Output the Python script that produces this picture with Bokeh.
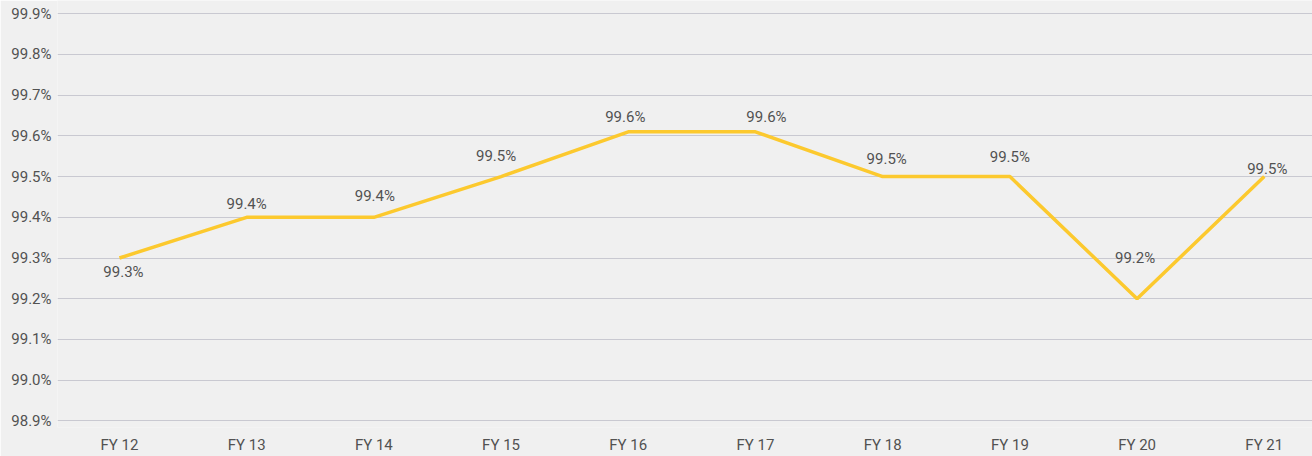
from bokeh.plotting import figure
from bokeh.models import ColumnDataSource, Range1d, FixedTicker, PrintfTickFormatter
from bokeh.embed import file_html
from bokeh.resources import INLINE
from bokeh.core.properties import value

# ---- data ----
categories = ["FY 12", "FY 13", "FY 14", "FY 15", "FY 16", "FY 17", "FY 18", "FY 19", "FY 20", "FY 21"]
availability = [99.30, 99.40, 99.40, 99.50, 99.61, 99.61, 99.50, 99.50, 99.20, 99.50]
y_ticks = [98.9, 99.0, 99.1, 99.2, 99.3, 99.4, 99.5, 99.6, 99.7, 99.8, 99.9]

# ---- label placement (screen pixels, styling only) ----
label_dx = [4, 0, 1, -5, -3, 11, 4, 0, -2, 3]
label_dy = [14, -13, -21, -21, -15, -15, -18, -20, -41, -8]

FONT = "Roboto"
TXT = "#525252"
BG = "#f0f0f0"

idx = list(range(len(categories)))
labels = [f"{v:.1f}%" for v in availability]

src = ColumnDataSource(dict(x=idx, y=availability, lab=labels, dx=label_dx, dy=label_dy))

p = figure(width=1312, height=456, output_backend="svg", toolbar_location=None,
           x_range=Range1d(-0.487, 9.379), y_range=Range1d(98.8836, 99.9326),
           min_border_left=57, min_border_right=0, min_border_top=0, min_border_bottom=28)

p.background_fill_color = BG
p.border_fill_color = BG
p.outline_line_color = None

p.line("x", "y", source=src, line_color="#fcc92e", line_width=3.5)
p.text("x", "y", text="lab", source=src, x_offset="dx", y_offset="dy",
       text_align="center", text_baseline="middle", text_font=value(FONT),
       text_font_size="15px", text_color=TXT)

# axes
p.xaxis.ticker = FixedTicker(ticks=idx)
p.xaxis.major_label_overrides = {i: c for i, c in zip(idx, categories)}
p.yaxis.ticker = FixedTicker(ticks=y_ticks)
p.yaxis.formatter = PrintfTickFormatter(format="%.1f%%")

for ax in (p.xaxis, p.yaxis):
    ax.axis_line_color = None
    ax.major_tick_line_color = None
    ax.minor_tick_line_color = None
    ax.major_tick_out = 0
    ax.major_tick_in = 0
    ax.major_label_text_font = FONT
    ax.major_label_text_font_size = "15px"
    ax.major_label_text_color = TXT
p.xaxis.major_label_standoff = 8
p.yaxis.major_label_standoff = 6

p.xgrid.grid_line_color = None
p.ygrid.grid_line_color = "#c9c9d1"
p.ygrid.grid_line_width = 1

open("out.html", "w").write(file_html(p, INLINE))
